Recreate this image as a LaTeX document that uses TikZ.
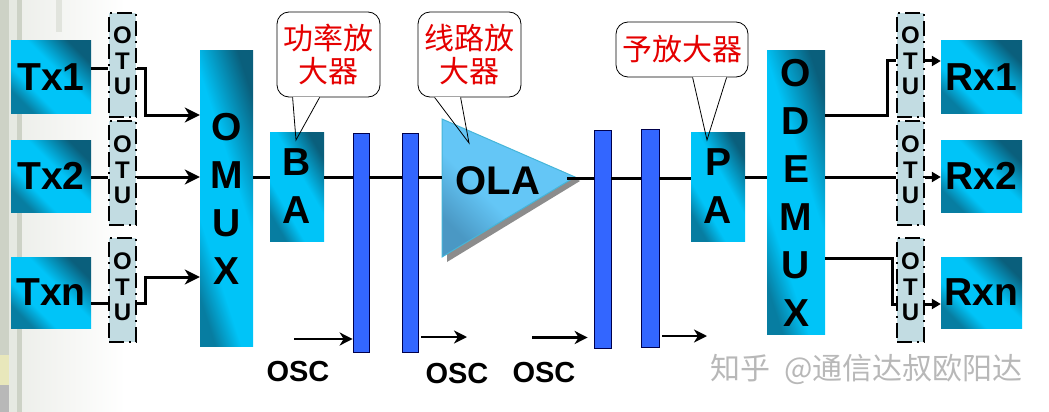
\documentclass[tikz,border=0pt]{standalone}
\usepackage{fontspec}
\setmainfont{Liberation Sans}
\newfontfamily\cjkfont{Noto Sans CJK SC}
\usetikzlibrary{arrows.meta, positioning}

\definecolor{blockmid}{HTML}{00C4F8}
\definecolor{blockdark}{HTML}{0A5F7C}
\definecolor{barblue}{HTML}{3366FF}
\definecolor{otufill}{HTML}{C2DCE2}
\definecolor{olaedge}{HTML}{45B5D8}
\definecolor{olalight}{HTML}{64C6F6}
\definecolor{oladark}{HTML}{4A98C4}
\definecolor{sidegrey}{HTML}{CDD2C6}

\pgfdeclareverticalshading{blockshade}{100bp}{color(0bp)=(blockdark!70!blockmid); color(25bp)=(blockdark!70!blockmid); color(36bp)=(blockmid); color(56bp)=(blockmid); color(75bp)=(blockdark); color(100bp)=(blockdark)}
\pgfdeclareverticalshading{olashade}{100bp}{color(0bp)=(oladark); color(25bp)=(oladark); color(42bp)=(olalight); color(100bp)=(olalight)}

\tikzset{
  block/.style={shading=blockshade, shading angle=-45, inner sep=0pt, align=center},
  midblock/.style={block, shading angle=-60},
  tallblock/.style={block, shading angle=-72},
  blocktext/.style={font=\fontsize{39}{48}\bfseries\selectfont},
  otubox/.style={draw, fill=otufill, line width=1.6pt, dash pattern=on 15pt off 5pt on 2pt off 5pt, minimum width=27pt, minimum height=104pt, inner sep=0pt},
  otutext/.style={font=\fontsize{24}{25.5}\bfseries\selectfont, align=center, inner sep=0pt},
  bar/.style={draw=black!70!blue, fill=barblue, line width=0.7pt, minimum width=16pt, inner sep=0pt},
  link/.style={line width=3pt},
  bigarrow/.style={line width=3pt, -{Stealth[length=15pt, width=15pt, inset=4.5pt]}},
  smallarrow/.style={line width=3pt, -{Triangle[length=9pt, width=10pt]}},
  oscarrow/.style={line width=2.4pt, -{Stealth[length=13pt, width=13pt, inset=4pt]}},
  osclabel/.style={font=\fontsize{29}{29}\bfseries\selectfont},
  callout/.style={draw, fill=white, line width=0.8pt, rounded corners=12pt, inner sep=0pt, align=center, text=red!90!black, font=\cjkfont\fontsize{30}{33}\selectfont},
  tailedge/.style={line width=0.8pt}
}

\begin{document}
\begin{tikzpicture}[x=1pt, y=-1pt]
  \useasboundingbox (0,0) rectangle (1049,412);

  % faded slide edge
  \shade[left color=sidegrey!35, right color=white] (22,0) rectangle (125,412);
  \fill[sidegrey] (0,0) rectangle (9,412);
  \fill[sidegrey!50] (9,0) rectangle (17,412);
  \fill[sidegrey] (17,0) rectangle (22,412);
  \fill[yellow!25!sidegrey!70!white] (0,355) rectangle (9,385);
  \fill[black!28] (0,385) rectangle (9,412);
  \fill[sidegrey!60] (56,0) rectangle (62,32);

  % callouts first, the blocks sit on their tips
  \node[callout, minimum width=103pt, minimum height=85pt] (powerbox) at (328.5,54.5) {功率放\\大器};
  \node[callout, minimum width=103pt, minimum height=85pt] (linebox) at (469.5,54.5) {线路放\\大器};
  \node[callout, minimum width=132pt, minimum height=55pt] (prebox) at (682,49.5) {予放大器};

  \coordinate (powera) at ([xshift=16]powerbox.south west);
  \coordinate (powerb) at ([xshift=43]powerbox.south west);
  \coordinate (powertip) at (296,140);
  \coordinate (linea) at ([xshift=17]linebox.south west);
  \coordinate (lineb) at ([xshift=43]linebox.south west);
  \coordinate (linetip) at (469,143);
  \coordinate (prea) at ([xshift=77]prebox.south west);
  \coordinate (preb) at ([xshift=111]prebox.south west);
  \coordinate (pretip) at (707,140);

  \fill[white] (powera) -- (powertip) -- (powerb) -- cycle;
  \fill[white] (linea) -- (linetip) -- (lineb) -- cycle;
  \fill[white] (prea) -- (pretip) -- (preb) -- cycle;
  \draw[white, line width=1.6pt] (powera) -- (powerb);
  \draw[white, line width=1.6pt] (linea) -- (lineb);
  \draw[white, line width=1.6pt] (prea) -- (preb);

  \coordinate (row1) at (0,69);
  \coordinate (row2) at (0,177);
  \coordinate (row3) at (0,303);
  \coordinate (mainl) at (0,177);
  \coordinate (mainr) at (0,178);

  % transmit side
  \node[block, blocktext, minimum width=80pt, minimum height=72pt] (tx1) at (51,77) {Tx1};
  \node[block, blocktext, minimum width=80pt, minimum height=72pt] (tx2) at (51,176) {Tx2};
  \node[block, blocktext, minimum width=80pt, minimum height=71pt] (txn) at (51,292.5) {Txn};
  \node[otubox, label={[otutext, yshift=4]center:O\\T\\U}] (otu1) at (122.5,65) {};
  \node[otubox, label={[otutext, yshift=3]center:O\\T\\U}] (otu2) at (122.5,173) {};
  \node[otubox, label={[otutext, yshift=3]center:O\\T\\U}] (otu3) at (122.5,290) {};
  \node[tallblock, blocktext, minimum width=53pt, minimum height=295pt] (omux) at (226.5,198.5) {O\\M\\U\\X};

  \draw[link] (tx1.east |- row1) -- (otu1.west |- row1);
  \draw[link] (tx2.east |- row2) -- (otu2.west |- row2);
  \draw[link] (txn.east |- row3) -- (otu3.west |- row3);
  \draw[bigarrow] (otu1.east |- row1) -| (145,115) -- (omux.west |- 0,115);
  \draw[bigarrow] (otu2.east |- row2) -- (omux.west |- row2);
  \draw[bigarrow] (otu3.east |- row3) -| (145,277) -- (omux.west |- 0,277);

  % line section
  \node[midblock, blocktext, minimum width=54pt, minimum height=109pt] (ba) at (297,186.5) {B\\A};
  \node[bar, minimum height=219pt] (bar1) at (361,242.5) {};
  \node[bar, minimum height=219pt] (bar2) at (410,242.5) {};
  \coordinate (olatop) at (442,119);
  \coordinate (olabot) at (442,257);
  \coordinate (olatip) at (575,177);
  \fill[black!45] (447,262) -- (580,181) -- (560,170) -- (447,240) -- cycle;
  \draw[olaedge, line width=1pt, shading=olashade, shading angle=-45] (olatop) -- (olatip) -- (olabot) -- cycle;
  \node[font=\fontsize{40}{40}\bfseries\selectfont, inner sep=0pt] (ola) at (498,181) {OLA};
  \node[bar, minimum height=218pt, minimum width=17pt] (bar3) at (602.5,239) {};
  \node[bar, minimum height=218pt, minimum width=18pt] (bar4) at (650,238) {};
  \node[midblock, blocktext, minimum width=54pt, minimum height=109pt] (pa) at (718,186.5) {P\\A};

  \draw[link] (omux.east |- mainl) -- (ba.west |- mainl);
  \draw[link] (ba.east |- mainl) -- (bar1.west |- mainl);
  \draw[link] (bar1.east |- mainl) -- (bar2.west |- mainl);
  \draw[link] (bar2.east |- mainl) -- (olatop |- mainl);
  \draw[link] ([xshift=-8]olatip |- mainr) -- (bar3.west |- mainr);
  \draw[link] (bar3.east |- mainr) -- (bar4.west |- mainr);
  \draw[link] (bar4.east |- mainr) -- (pa.west |- mainr);

  % tail edges stay visible on top of the blocks
  \draw[tailedge] (powera) -- (powertip) -- (powerb);
  \draw[tailedge] (linea) -- (linetip) -- (lineb);
  \draw[tailedge] (prea) -- (pretip) -- (preb);

  % receive side
  \node[tallblock, blocktext, minimum width=58pt, minimum height=283pt] (odemux) at (796,192.5) {O\\D\\E\\M\\U\\X};
  \node[otubox, label={[otutext, yshift=4]center:O\\T\\U}] (otu4) at (910.5,65) {};
  \node[otubox, label={[otutext, yshift=3]center:O\\T\\U}] (otu5) at (910.5,173) {};
  \node[otubox, label={[otutext, yshift=3]center:O\\T\\U}] (otu6) at (910.5,290) {};
  \node[block, blocktext, minimum width=81pt, minimum height=72pt] (rx1) at (981.5,77) {Rx1};
  \node[block, blocktext, minimum width=81pt, minimum height=72pt] (rx2) at (981.5,176) {Rx2};
  \node[block, blocktext, minimum width=81pt, minimum height=71pt] (rxn) at (981.5,292.5) {Rxn};

  \draw[link] (pa.east |- mainl) -- (odemux.west |- mainl);
  \draw[link] (odemux.east |- 0,115) -| (887,61) -- (otu4.west |- 0,61);
  \draw[link] (odemux.east |- row2) -- (otu5.west |- row2);
  \draw[link] (odemux.east |- 0,258) -| (892,304) -- (otu6.west |- 0,304);
  \draw[smallarrow] (otu4.east |- 0,61) -- (rx1.west |- 0,61);
  \draw[smallarrow] (otu5.east |- row2) -- (rx2.west |- row2);
  \draw[smallarrow] (otu6.east |- 0,304) -- (rxn.west |- 0,304);

  % supervisory channel
  \coordinate (osca) at (294,339);
  \coordinate (oscb) at (532,337.5);
  \coordinate (oscc) at (467,337);
  \coordinate (oscd) at (707,336);
  \draw[oscarrow] (osca) -- (bar1.west |- osca);
  \draw[oscarrow] (bar2.east |- oscc) ++(3,0) -- (oscc);
  \draw[oscarrow] (oscb) -- ([xshift=-6]bar3.west |- oscb);
  \draw[oscarrow] (bar4.east |- oscd) ++(3,0) -- (oscd);
  \node[osclabel] (osc1) at (298,372) {OSC};
  \node[osclabel] (osc2) at (457,374) {OSC};
  \node[osclabel] (osc3) at (544,373) {OSC};

  \node[text=black!28, font=\cjkfont\fontsize{30}{30}\selectfont, anchor=east, inner sep=0pt] (mark) at (1023,369) {知乎 \ @通信达叔欧阳达};
\end{tikzpicture}
\end{document}
